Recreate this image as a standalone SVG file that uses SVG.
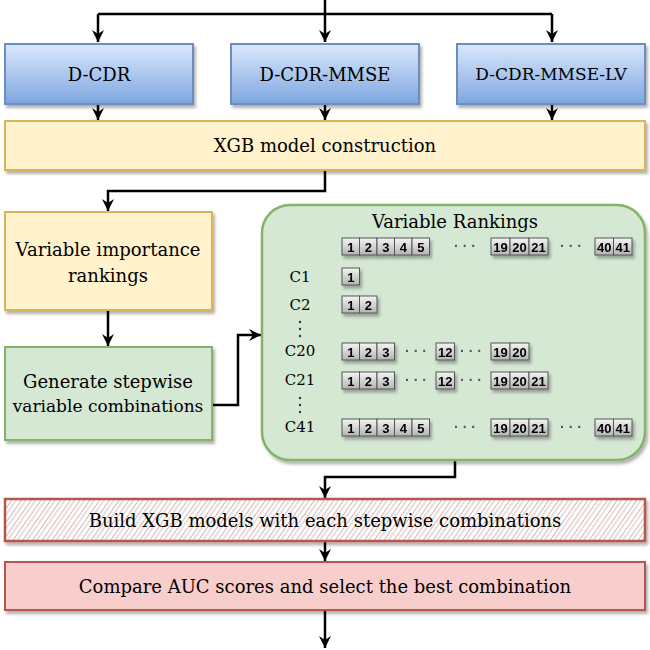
<svg xmlns="http://www.w3.org/2000/svg" width="650" height="650" viewBox="0 0 650 650">
<style>
.t{font-family:"DejaVu Serif","Liberation Serif",serif;font-size:18px;fill:#000;text-anchor:middle;dominant-baseline:central}
.c{stroke:#000;stroke-width:2.5;fill:none}
.cell{fill:url(#gc);stroke:#555;stroke-width:1}
.n{font-family:"Liberation Sans",Arial,sans-serif;font-weight:bold;font-size:13px;text-anchor:middle;dominant-baseline:central}
.d{font-family:"Liberation Sans",Arial,sans-serif;font-size:14px;font-weight:bold;fill:#555;text-anchor:middle}
.vd{fill:#333}
</style>
<defs>
<linearGradient id="gb" x1="0" y1="0" x2="0" y2="1"><stop offset="0" stop-color="#dae8fc"/><stop offset="1" stop-color="#7ea6e0"/></linearGradient>
<linearGradient id="gc" x1="0" y1="0" x2="0" y2="1"><stop offset="0" stop-color="#f5f5f5"/><stop offset="1" stop-color="#b3b3b3"/></linearGradient>
<pattern id="hatch" width="8" height="8" patternUnits="userSpaceOnUse" patternTransform="rotate(35)"><rect width="8" height="8" fill="#fff"/><line x1="0" y1="0" x2="0" y2="8" stroke="#e09a9a" stroke-width="1.6"/><line x1="4" y1="0" x2="4" y2="8" stroke="#bbb" stroke-width="0.9"/></pattern>
<filter id="sh" x="-5%" y="-5%" width="110%" height="120%"><feDropShadow dx="2" dy="3" stdDeviation="1.5" flood-color="#000" flood-opacity="0.3"/></filter>
<marker id="ar" markerWidth="14" markerHeight="14" refX="12" refY="6" orient="auto" markerUnits="userSpaceOnUse"><path d="M0,0 L12,6 L0,12 L4,6 z" fill="#000"/></marker>
</defs>
<rect width="650" height="650" fill="#fff"/>
<g id="connectors">
<path class="c" d="M325,0 V14"/>
<path class="c" d="M98,14 H552"/>
<path class="c" d="M98,14 V42" marker-end="url(#ar)"/>
<path class="c" d="M325,14 V42" marker-end="url(#ar)"/>
<path class="c" d="M552,14 V42" marker-end="url(#ar)"/>
<path class="c" d="M98,104 V120" marker-end="url(#ar)"/>
<path class="c" d="M325,104 V120" marker-end="url(#ar)"/>
<path class="c" d="M552,104 V120" marker-end="url(#ar)"/>
<path class="c" d="M325,170 V191 H108 V211" marker-end="url(#ar)"/>
<path class="c" d="M108,310 V346" marker-end="url(#ar)"/>
<path class="c" d="M212,405 H238 V335 H261" marker-end="url(#ar)"/>
<path class="c" d="M455,460 V477 H325 V498" marker-end="url(#ar)"/>
<path class="c" d="M325,541 V561" marker-end="url(#ar)"/>
<path class="c" d="M325,610 V648" marker-end="url(#ar)"/>
</g>
<g id="n-dcdr"><rect x="5" y="44" width="188" height="60" fill="url(#gb)" stroke="#6c8ebf" stroke-width="2" filter="url(#sh)"/><text class="t" x="99" y="74">D-CDR</text></g>
<g id="n-mmse"><rect x="231" y="44" width="188" height="60" fill="url(#gb)" stroke="#6c8ebf" stroke-width="2" filter="url(#sh)"/><text class="t" x="325" y="74">D-CDR-MMSE</text></g>
<g id="n-lv"><rect x="457" y="44" width="188" height="60" fill="url(#gb)" stroke="#6c8ebf" stroke-width="2" filter="url(#sh)"/><text class="t" x="551" y="74" style="font-size:17px">D-CDR-MMSE-LV</text></g>
<g id="n-xgb"><rect x="5" y="121" width="640" height="49" fill="#fff2cc" stroke="#d6b656" stroke-width="2" filter="url(#sh)"/><text class="t" x="325" y="145">XGB model construction</text></g>
<g id="n-vir"><rect x="5" y="212" width="207" height="98" fill="#fff2cc" stroke="#d6b656" stroke-width="2" filter="url(#sh)"/><text class="t" x="108" y="249">Variable importance</text><text class="t" x="108" y="275">rankings</text></g>
<g id="n-gen"><rect x="5" y="347" width="207" height="93" fill="#d5e8d4" stroke="#82b366" stroke-width="2" filter="url(#sh)"/><text class="t" x="108" y="381">Generate stepwise</text><text class="t" x="108" y="406" style="font-size:17px">variable combinations</text></g>
<g id="n-rank">
<rect x="262" y="205" width="383" height="255" rx="28" fill="#d5e8d4" stroke="#82b366" stroke-width="2.5" filter="url(#sh)"/>
<text class="t" x="455" y="221">Variable Rankings</text>
<g class="t" style="font-size:15px">
<text x="300" y="277">C1</text><text x="300" y="305">C2</text><text x="300" y="351">C20</text><text x="300" y="380">C21</text><text x="300" y="427">C41</text>
</g>
<g class="vd"><circle cx="300" cy="322" r="1.2"/><circle cx="300" cy="329" r="1.2"/><circle cx="300" cy="336" r="1.2"/><circle cx="300" cy="398" r="1.2"/><circle cx="300" cy="405" r="1.2"/><circle cx="300" cy="412" r="1.2"/></g>
<g id="cells" filter="url(#sh)">
<g transform="translate(0,238)">
<rect class="cell" x="342" width="17.5" height="17"/><rect class="cell" x="359.5" width="17.5" height="17"/><rect class="cell" x="377" width="17.5" height="17"/><rect class="cell" x="394.5" width="17.5" height="17"/><rect class="cell" x="412" width="17.5" height="17"/>
<rect class="cell" x="491" width="19" height="17"/><rect class="cell" x="510" width="19" height="17"/><rect class="cell" x="529" width="19" height="17"/>
<rect class="cell" x="595" width="18.5" height="17"/><rect class="cell" x="613.5" width="18.5" height="17"/>
</g>
<rect class="cell" x="342" y="268" width="17.5" height="17"/>
<rect class="cell" x="342" y="296" width="17.5" height="17"/><rect class="cell" x="359.5" y="296" width="17.5" height="17"/>
<g transform="translate(0,343)">
<rect class="cell" x="342" width="17.5" height="17"/><rect class="cell" x="359.5" width="17.5" height="17"/><rect class="cell" x="377" width="17.5" height="17"/>
<rect class="cell" x="436" width="18.5" height="17"/>
<rect class="cell" x="491" width="19" height="17"/><rect class="cell" x="510" width="19" height="17"/>
</g>
<g transform="translate(0,372)">
<rect class="cell" x="342" width="17.5" height="17"/><rect class="cell" x="359.5" width="17.5" height="17"/><rect class="cell" x="377" width="17.5" height="17"/>
<rect class="cell" x="436" width="18.5" height="17"/>
<rect class="cell" x="491" width="19" height="17"/><rect class="cell" x="510" width="19" height="17"/><rect class="cell" x="529" width="19" height="17"/>
</g>
<g transform="translate(0,419)">
<rect class="cell" x="342" width="17.5" height="17"/><rect class="cell" x="359.5" width="17.5" height="17"/><rect class="cell" x="377" width="17.5" height="17"/><rect class="cell" x="394.5" width="17.5" height="17"/><rect class="cell" x="412" width="17.5" height="17"/>
<rect class="cell" x="491" width="19" height="17"/><rect class="cell" x="510" width="19" height="17"/><rect class="cell" x="529" width="19" height="17"/>
<rect class="cell" x="595" width="18.5" height="17"/><rect class="cell" x="613.5" width="18.5" height="17"/>
</g>
</g>
<g class="n">
<g transform="translate(0,247)"><text x="350.8">1</text><text x="368.3">2</text><text x="385.8">3</text><text x="403.3">4</text><text x="420.8">5</text><text x="500.5">19</text><text x="519.5">20</text><text x="538.5">21</text><text x="604.3">40</text><text x="622.8">41</text></g>
<text x="350.8" y="277">1</text>
<text x="350.8" y="305">1</text><text x="368.3" y="305">2</text>
<g transform="translate(0,352)"><text x="350.8">1</text><text x="368.3">2</text><text x="385.8">3</text><text x="445.3">12</text><text x="500.5">19</text><text x="519.5">20</text></g>
<g transform="translate(0,381)"><text x="350.8">1</text><text x="368.3">2</text><text x="385.8">3</text><text x="445.3">12</text><text x="500.5">19</text><text x="519.5">20</text><text x="538.5">21</text></g>
<g transform="translate(0,428)"><text x="350.8">1</text><text x="368.3">2</text><text x="385.8">3</text><text x="403.3">4</text><text x="420.8">5</text><text x="500.5">19</text><text x="519.5">20</text><text x="538.5">21</text><text x="604.3">40</text><text x="622.8">41</text></g>
</g>
<g class="d">
<text x="465" y="251">· · ·</text><text x="571" y="251">· · ·</text>
<text x="416" y="356">· · ·</text><text x="471" y="356">· · ·</text>
<text x="416" y="385">· · ·</text><text x="471" y="385">· · ·</text>
<text x="465" y="432">· · ·</text><text x="571" y="432">· · ·</text>
</g>
</g>
<g id="n-build"><rect x="5" y="499" width="640" height="42" fill="url(#hatch)" stroke="#b85450" stroke-width="2.5" filter="url(#sh)"/><text class="t" x="325" y="520">Build XGB models with each stepwise combinations</text></g>
<g id="n-cmp"><rect x="5" y="562" width="640" height="48" fill="#f8cecc" stroke="#b85450" stroke-width="2" filter="url(#sh)"/><text class="t" x="325" y="586">Compare AUC scores and select the best combination</text></g>
</svg>
